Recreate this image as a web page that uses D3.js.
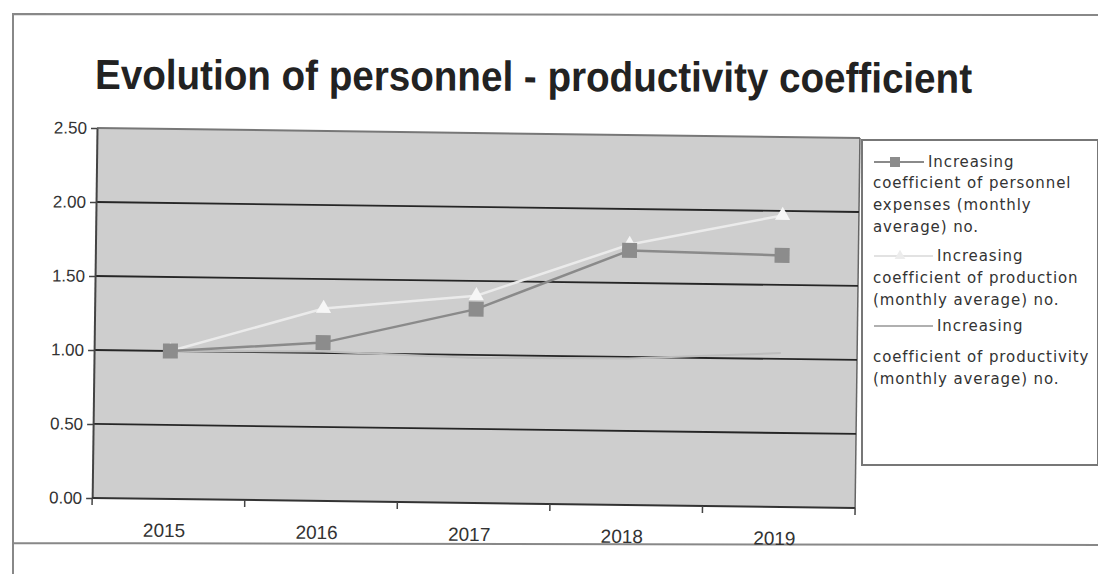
<!DOCTYPE html>
<html lang="en">
<head>
<meta charset="UTF-8">
<title>Evolution of personnel - productivity coefficient</title>
<script src="https://d3js.org/d3.v7.min.js"></script>
<style>
  body { margin: 0; background: #fff; }
  svg { display: block; }
</style>
</head>
<body>
<div id="chart"></div>
<script>
// data
const years = ["2015", "2016", "2017", "2018", "2019"];
const personnel = [1.00, 1.07, 1.31, 1.72, 1.70];
const production = [1.00, 1.30, 1.40, 1.76, 1.97];
const productivity = [1.00, 1.01, 0.98, 0.99, 1.04];
const yTicks = [0, 0.5, 1, 1.5, 2, 2.5];
const legendLines = [
  ["Increasing", "coefficient of personnel", "expenses (monthly", "average) no."],
  ["Increasing", "coefficient of production", "(monthly average) no."],
  ["Increasing", "coefficient of productivity", "(monthly average) no."]
];

const W = 1098, H = 574;
const margin = { top: 128, left: 97, right: 238, bottom: 76 };
const innerW = W - margin.left - margin.right;
const innerH = H - margin.top - margin.bottom;
const font = "Liberation Sans, Arial, sans-serif";

const svg = d3.select("#chart").append("svg")
    .attr("width", W).attr("height", H);

// scanned page frame (top, left, bottom)
svg.append("path")
    .attr("d", "M1098,15 L13,14 L13,574 M13,543 L1098,545")
    .attr("fill", "none").attr("stroke", "#888").attr("stroke-width", 2);

// title is taller and narrower than Arial, so squeeze it to the scanned width
svg.append("text")
    .attr("x", 95).attr("y", 89)
    .attr("transform", "rotate(0.25,95,89)")
    .attr("font-family", font)
    .attr("font-weight", "bold").attr("font-size", 42)
    .attr("textLength", 877).attr("lengthAdjust", "spacingAndGlyphs")
    .attr("fill", "#222")
    .text("Evolution of personnel - productivity coefficient");

// the scan is slightly tilted, so the plot is rotated a little
const g = svg.append("g")
    .attr("transform", `rotate(0.75,${margin.left},${margin.top}) translate(${margin.left},${margin.top})`);

const x = d3.scaleBand().domain(years).range([0, innerW]);
const y = d3.scaleLinear().domain([0, 2.5]).range([innerH, 0]);

g.append("rect").attr("width", innerW).attr("height", innerH)
    .attr("fill", "#cecece");
g.append("line").attr("x1", 0).attr("x2", innerW).attr("y1", 0).attr("y2", 0)
    .attr("stroke", "#777").attr("stroke-width", 2);
g.append("line").attr("x1", innerW).attr("x2", innerW).attr("y1", 0).attr("y2", innerH)
    .attr("stroke", "#666").attr("stroke-width", 1.5);

// gridlines
g.selectAll("line.grid").data(yTicks.slice(1, -1)).join("line")
    .attr("class", "grid")
    .attr("x1", 0).attr("x2", innerW)
    .attr("y1", d => y(d)).attr("y2", d => y(d))
    .attr("stroke", "#262626").attr("stroke-width", 1.8);

// y axis
const yAxis = g.append("g")
    .call(d3.axisLeft(y).tickValues(yTicks).tickFormat(d3.format(".2f")).tickSize(6).tickSizeOuter(0));
yAxis.select(".domain").attr("stroke", "#444").attr("stroke-width", 2);
yAxis.selectAll("line").attr("stroke", "#444").attr("stroke-width", 1.5);
yAxis.selectAll("text").attr("font-family", font)
    .attr("font-size", 17).attr("fill", "#333").attr("dx", -1);

// x axis, ticks between categories
const xAxis = g.append("g").attr("transform", `translate(0,${innerH})`);
xAxis.append("line").attr("x1", 0).attr("x2", innerW)
    .attr("stroke", "#333").attr("stroke-width", 2);
const edges = years.map(d => x(d)).concat([innerW]);
xAxis.selectAll("line.tk").data(edges).join("line").attr("class", "tk")
    .attr("x1", d => d).attr("x2", d => d).attr("y1", 0).attr("y2", 7)
    .attr("stroke", "#444").attr("stroke-width", 1.5);
xAxis.selectAll("text").data(years).join("text")
    .attr("x", d => x(d) + x.bandwidth() / 2 - 4).attr("y", 38)
    .attr("text-anchor", "middle")
    .attr("font-family", font)
    .attr("font-size", 19).attr("fill", "#333")
    .text(d => d);

const cx = d => x(d) + x.bandwidth() / 2;
const line = d3.line().x((d, i) => cx(years[i])).y(d => y(d));

// productivity (faint, sits on the 1.00 gridline)
g.append("path").datum(productivity).attr("d", line)
    .attr("fill", "none").attr("stroke", "#bdbdbd").attr("stroke-width", 2);

// production
g.append("path").datum(production).attr("d", line)
    .attr("fill", "none").attr("stroke", "#ebebeb").attr("stroke-width", 2.5);
g.selectAll("path.tri").data(production).join("path").attr("class", "tri")
    .attr("transform", (d, i) => `translate(${cx(years[i])},${y(d)})`)
    .attr("d", d3.symbol(d3.symbolTriangle, 100))
    .attr("fill", "#f6f6f6");

// personnel expenses
g.append("path").datum(personnel).attr("d", line)
    .attr("fill", "none").attr("stroke", "#8a8a8a").attr("stroke-width", 2.5);
g.selectAll("rect.sq").data(personnel).join("rect").attr("class", "sq")
    .attr("x", (d, i) => cx(years[i]) - 7.5).attr("y", d => y(d) - 7.5)
    .attr("width", 15).attr("height", 15)
    .attr("fill", "#8c8c8c");

// legend
const lg = svg.append("g").attr("transform", "translate(862,140)");
lg.append("rect").attr("x", 0).attr("y", 0).attr("width", 236).attr("height", 325)
    .attr("fill", "#fff").attr("stroke", "#777").attr("stroke-width", 2);

// baselines of each legend row (relative to legend top)
const rowY = [27, 48, 70, 92, 121, 143, 165, 191, 222, 244];
const keyStyles = [
  { stroke: "#8a8a8a", mark: "sq", tx: 66 },
  { stroke: "#e2e2e2", mark: "tri", tx: 75 },
  { stroke: "#b0b0b0", mark: null, tx: 75 }
];
let row = 0;
legendLines.forEach((lines, k) => {
  const s = keyStyles[k];
  const yy = rowY[row] - 5;
  lg.append("line").attr("x1", 12).attr("x2", s.tx - 4).attr("y1", yy).attr("y2", yy)
    .attr("stroke", s.stroke).attr("stroke-width", 2);
  if (s.mark === "sq") lg.append("rect").attr("x", 28).attr("y", yy - 5).attr("width", 10).attr("height", 10).attr("fill", "#8c8c8c");
  if (s.mark === "tri") lg.append("path").attr("transform", `translate(38,${yy})`)
    .attr("d", d3.symbol(d3.symbolTriangle, 50)).attr("fill", "#ececec");
  lines.forEach((t, j) => {
    lg.append("text")
      .attr("x", j === 0 ? s.tx : 11).attr("y", rowY[row + j])
      .attr("font-family", "DejaVu Sans, Verdana, sans-serif")
      .attr("font-size", 15).attr("letter-spacing", 0.9)
      .attr("fill", "#333")
      .text(t);
  });
  row += lines.length;
});
</script>
</body>
</html>
